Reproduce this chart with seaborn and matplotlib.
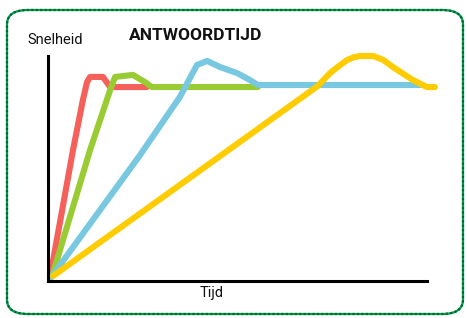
import numpy as np
import pandas as pd
import matplotlib
matplotlib.use("Agg")
import matplotlib.pyplot as plt
import seaborn as sb
from matplotlib.patches import FancyBboxPatch

sb.set_style("white")
plt.rcParams['font.family'] = ['Roboto', 'DejaVu Sans']

rood_x = [0.5, 6.6, 9.2, 10.3, 11.1, 14.5, 16.4, 26.1]
rood_y = [1.3, 58.2, 80.4, 88.4, 90.7, 90.7, 86.2, 86.2]

groen_x = [1.1, 11.1, 16.4, 17.7, 22.4, 25.6, 27.4, 55.4]
groen_y = [2.2, 58.2, 84.9, 90.7, 91.6, 88.4, 86.2, 86.2]

blauw_x = [0.5, 24.3, 34.8, 39.3, 42.0, 45.4, 49.9, 53.3, 55.4, 98.2]
blauw_y = [0.9, 56.0, 81.8, 96.0, 97.8, 95.1, 92.4, 89.3, 87.1, 87.1]

geel_x = [1.3, 71.2, 74.4, 76.8, 78.9, 80.6, 82.3, 85.8, 88.4, 91.0, 96.3, 100.0, 102.1]
geel_y = [2.2, 86.7, 92.4, 95.6, 98.2, 99.4, 100.0, 100.0, 98.3, 95.1, 89.3, 86.2, 86.2]

reeksen = ["rood", "groen", "blauw", "geel"]
kleuren = {"rood": "#f5605a", "groen": "#99cc33", "blauw": "#77c8e0", "geel": "#ffcc00"}

df = pd.concat([
    pd.DataFrame({"reeks": n, "tijd": x, "snelheid": y})
    for n, x, y in [("rood", rood_x, rood_y), ("groen", groen_x, groen_y),
                    ("blauw", blauw_x, blauw_y), ("geel", geel_x, geel_y)]
])

W, H = 467, 318
fig = plt.figure(figsize=(W / 100, H / 100), dpi=100)

# afgeronde groene rand
for kleur, stijl in [("#00a04a", "-"), ("#006633", (0, (1, 1)))]:
    rand = FancyBboxPatch((7 / W, 4 / H), 456 / W, 304 / H,
                          boxstyle="round,pad=0,rounding_size=0.045",
                          transform=fig.transFigure, fill=False,
                          edgecolor=kleur, linewidth=1.6, linestyle=stijl)
    fig.patches.append(rand)

ax = fig.add_axes([48 / W, (H - 281) / H, (427 - 48) / W, (281 - 56) / H])
ax.set_xlim(0, 100)
ax.set_ylim(0, 100)

sb.lineplot(data=df, x="tijd", y="snelheid", hue="reeks", hue_order=reeksen,
            palette=kleuren, sort=False, estimator=None, ax=ax,
            linewidth=4.4, legend=False)
for l in ax.lines:
    l.set_clip_on(False)
    l.set_solid_joinstyle("round")

sb.despine(ax=ax)
for s in ["left", "bottom"]:
    ax.spines[s].set_linewidth(2.2)
    ax.spines[s].set_color("black")
ax.set_xticks([])
ax.set_yticks([])
ax.set_xlabel("")
ax.set_ylabel("")

fig.text(27 / W, 1 - 40 / H, "Snelheid", fontsize=10.5, va="center", ha="left", color="#111111")
fig.text(212 / W, 1 - 293 / H, "Tijd", fontsize=10.5, va="center", ha="center", color="#111111")
fig.text(196 / W, 1 - 35 / H, "ANTWOORDTIJD", fontsize=12.5, fontweight="bold",
         va="center", ha="center", color="#111111")

fig.savefig("out.png", dpi=100)
